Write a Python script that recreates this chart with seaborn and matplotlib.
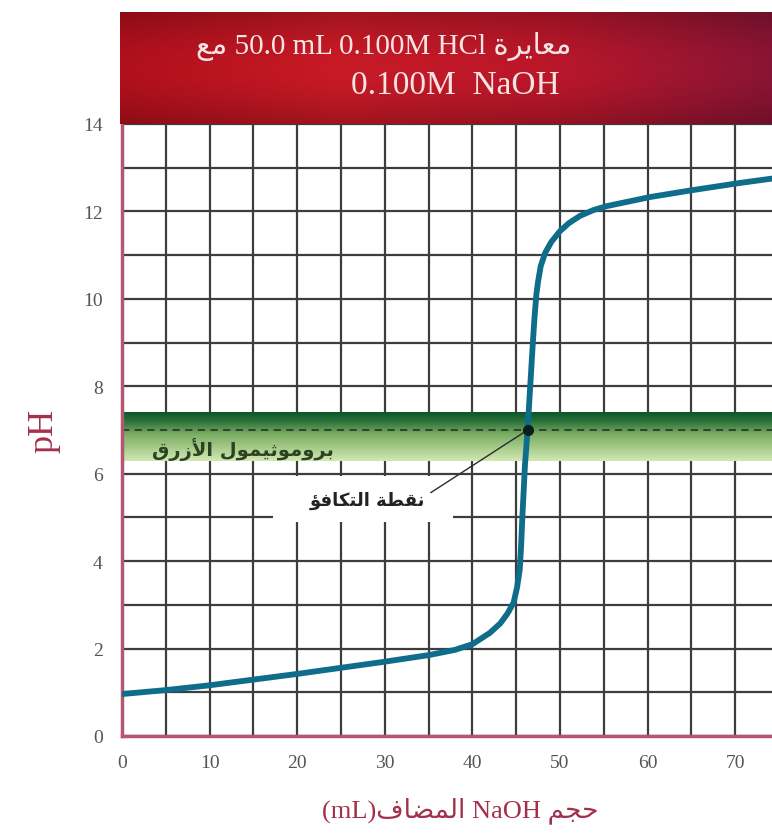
import numpy as np
import pandas as pd
import matplotlib
matplotlib.use("Agg")
from matplotlib import pyplot as plt
from matplotlib.colors import LinearSegmentedColormap
from matplotlib.patches import Rectangle
import seaborn as sns

# data
naoh_ml = [0, 5, 10, 15, 20, 25, 30, 35, 38, 40, 42, 43.2, 44, 44.7, 45.1, 45.4,
           45.55, 45.7, 45.85, 46.0, 46.3, 46.6, 46.9, 47.1, 47.3, 47.5, 47.8,
           48.3, 49, 50, 51, 52.3, 53.8, 55.3, 60.3, 65.2, 70.5, 74.5]
ph = [0.96, 1.05, 1.16, 1.29, 1.42, 1.56, 1.70, 1.85, 1.97, 2.1, 2.36, 2.58, 2.8,
      3.05, 3.4, 3.8, 4.3, 5.0, 5.6, 6.2, 7.0, 8.0, 9.0, 9.6, 10.1, 10.4, 10.75,
      11.05, 11.3, 11.55, 11.73, 11.9, 12.03, 12.12, 12.33, 12.49, 12.65, 12.76]

x_ticks = [0, 10, 20, 30, 40, 50, 60, 70]
y_ticks = [0, 2, 4, 6, 8, 10, 12, 14]
indicator_range = [6.3, 7.4]        # bromothymol blue band
equiv_point = (46.3, 7.0)
equiv_label_at = (28.0, 5.4)
indicator_label_at = (3.4, 6.57)

# --- Arabic shaping (matplotlib has no shaping, so use presentation forms) ---
AR = {'ا': (0xFE8D, 2), 'أ': (0xFE83, 2), 'ؤ': (0xFE85, 2), 'ب': (0xFE8F, 4),
      'ة': (0xFE93, 2), 'ت': (0xFE95, 4), 'ث': (0xFE99, 4), 'ج': (0xFE9D, 4),
      'ح': (0xFEA1, 4), 'ر': (0xFEAD, 2), 'ز': (0xFEAF, 2), 'ض': (0xFEBD, 4),
      'ط': (0xFEC1, 4), 'ع': (0xFEC9, 4), 'ف': (0xFED1, 4), 'ق': (0xFED5, 4),
      'ك': (0xFED9, 4), 'ل': (0xFEDD, 4), 'م': (0xFEE1, 4), 'ن': (0xFEE5, 4),
      'و': (0xFEED, 2), 'ي': (0xFEF1, 4)}
LAM_ALEF = {'ا': 0xFEFB, 'أ': 0xFEF7}


def shape(word):
    out = []
    prev = None
    i = 0
    while i < len(word):
        c = word[i]
        if c not in AR:
            out.append(c)
            prev = None
            i += 1
            continue
        link_prev = prev is not None and AR[prev][1] == 4
        if c == 'ل' and i + 1 < len(word) and word[i + 1] in LAM_ALEF:
            out.append(chr(LAM_ALEF[word[i + 1]] + (1 if link_prev else 0)))
            prev = word[i + 1]
            i += 2
            continue
        base, n = AR[c]
        nxt = word[i + 1] if i + 1 < len(word) else None
        link_next = n == 4 and nxt in AR
        k = 3 if (link_prev and link_next) else 1 if link_prev else 2 if link_next else 0
        out.append(chr(base + k))
        prev = c
        i += 1
    return ''.join(reversed(out))


sns.set_style("white")
serif = ['Liberation Serif', 'DejaVu Sans']
plt.rcParams['font.family'] = serif

fig = plt.figure(figsize=(7.72, 8.37), dpi=100)
ax = fig.add_axes([122 / 772, 1 - 737 / 837, 650 / 772, 612 / 837])

grid_c = '#3d3d3d'
ax.set_xticks(np.arange(0, 75, 5), minor=True)
ax.set_yticks(np.arange(0, 15, 1), minor=True)
ax.set_xticks(x_ticks)
ax.set_yticks(y_ticks)
ax.grid(True, which='both', color=grid_c, lw=1.6, zorder=0)
ax.set_axisbelow(True)
ax.set_xlim(0, 74.2)
ax.set_ylim(0, 14)

# indicator band
band_cmap = LinearSegmentedColormap.from_list(
    'band', [(0, '#d2e8b2'), (0.55, '#79ad62'), (0.82, '#2a7038'), (1, '#0a552a')])
grad = np.linspace(0, 1, 200).reshape(-1, 1)
ax.imshow(grad, cmap=band_cmap, origin='lower', aspect='auto',
          extent=[0, 74.2, indicator_range[0], indicator_range[1]], zorder=1)
ax.axhline(equiv_point[1], color='#2b3b2b', lw=1.3, ls=(0, (4, 3)), zorder=2)

# curve
df = pd.DataFrame({'ml': naoh_ml, 'ph': ph})
sns.lineplot(data=df, x='ml', y='ph', ax=ax, color='#0f6d8c', lw=4.2,
             solid_capstyle='round', solid_joinstyle='round', zorder=4)
ax.plot(*equiv_point, 'o', color='#0b1d1d', ms=7, zorder=5)

ax.text(*indicator_label_at, shape('بروموثيمول الأزرق'), family='DejaVu Sans',
        weight='bold', fontsize=14, color='#2d4220', va='center', ha='left', zorder=3)

# white patch behind the equivalence label
ax.add_patch(Rectangle((17.2, 4.9), 20.6, 1.04, fc='white', ec='none', zorder=2))
ax.annotate(shape('نقطة التكافؤ'), xy=equiv_point, xytext=equiv_label_at,
            family='DejaVu Sans', weight='bold', fontsize=13, color='#222222',
            ha='center', va='center', zorder=3,
            arrowprops=dict(arrowstyle='-', color='#2b2b2b', lw=1,
                            shrinkA=0, shrinkB=0, relpos=(1.05, 0.9)))

spine_c = '#b65570'
for s in ['top', 'right']:
    ax.spines[s].set_visible(False)
for s in ['left', 'bottom']:
    ax.spines[s].set_color(spine_c)
    ax.spines[s].set_linewidth(2.5)
ax.tick_params(which='both', length=0)
ax.tick_params(axis='x', pad=13, labelsize=14, labelcolor='#555555')
ax.tick_params(axis='y', pad=14, labelsize=14, labelcolor='#555555')

ax.set_ylabel('pH', fontsize=26, color='#a3304c')
ax.yaxis.set_label_coords(-0.095, 0.5)
ax.set_xlabel('(mL)' + shape('المضاف') + ' NaOH ' + shape('حجم'),
              fontsize=19, color='#a3304c')
ax.xaxis.set_label_coords(0.52, -0.098)

# title banner
bax = fig.add_axes([120 / 772, 1 - 125 / 837, 652 / 772, 112 / 837])
h = np.linspace(0, 1, 300)
v = np.linspace(0, 1, 60)
red = LinearSegmentedColormap.from_list(
    'red', ['#b0101c', '#c81a26', '#ba172a', '#8a1434'])
img = red(h)[None, :, :3] * (0.8 + 0.2 * np.sin(np.pi * v))[:, None, None]
bax.imshow(img, aspect='auto', extent=[0, 1, 0, 1])
bax.set_xlim(0, 1)
bax.set_ylim(0, 1)
bax.axis('off')
bax.text(0.405, 0.70, shape('مع') + ' 50.0 mL 0.100M HCl ' + shape('معايرة'),
         ha='center', va='center', fontsize=21, color='#f6e4e4')
bax.text(0.514, 0.35, '0.100M  NaOH', ha='center', va='center', fontsize=24,
         color='#f6e4e4')

fig.savefig('out.png', dpi=100)
plt.close(fig)
